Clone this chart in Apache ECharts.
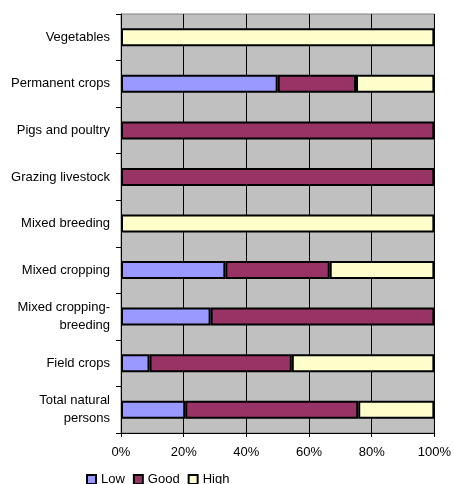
<!DOCTYPE html>
<html>
<head>
<meta charset="utf-8">
<script src="https://cdn.jsdelivr.net/npm/echarts@6/dist/echarts.min.js"></script>
<style>
  html, body { margin: 0; padding: 0; background: #fff; }
  #chart { width: 454px; height: 484px; }
</style>
</head>
<body>
<div id="chart"></div>
<script>
// Farm types, listed top to bottom
const categories = [
  'Vegetables',
  'Permanent crops',
  'Pigs and poultry',
  'Grazing livestock',
  'Mixed breeding',
  'Mixed cropping',
  'Mixed cropping-\nbreeding',
  'Field crops',
  'Total natural\npersons'
];

// Share of each rating level (%)
const lowValues  = [0, 50, 0, 0, 0, 33.3, 28.6, 9.1, 20.5];
const goodValues = [0, 25, 100, 100, 0, 33.3, 71.4, 45.4, 55.2];
const highValues = [100, 25, 0, 0, 100, 33.4, 0, 45.5, 24.3];

const xTicks = { min: 0, max: 100, interval: 20 };

const seriesNames = ['Low', 'Good', 'High'];
const seriesColors = ['#9999FF', '#993366', '#FFFFCC'];
const seriesValues = [lowValues, goodValues, highValues];

const chart = echarts.init(document.getElementById('chart'), null, { renderer: 'canvas' });

const font = 'Liberation Sans, Arial, sans-serif';

chart.setOption({
  animation: false,
  textStyle: { fontFamily: font },
  grid: {
    left: 121, right: 17, top: 14, bottom: 51,
    show: true,
    backgroundColor: '#C0C0C0',
    borderColor: '#808080',
    borderWidth: 1
  },
  legend: {
    data: seriesNames,
    left: 86,
    top: 473,
    icon: 'rect',
    itemWidth: 9,
    itemHeight: 9,
    itemGap: 8,
    padding: 0,
    textStyle: { fontSize: 13, color: '#000', fontFamily: font }
  },
  xAxis: {
    type: 'value',
    min: xTicks.min,
    max: xTicks.max,
    interval: xTicks.interval,
    axisLine: { show: true, lineStyle: { color: '#000', width: 1 } },
    axisTick: { show: true, length: 4, lineStyle: { color: '#000' } },
    axisLabel: {
      formatter: '{value}%',
      fontSize: 13,
      color: '#000',
      margin: 13,
      fontFamily: font
    },
    splitLine: { show: true, lineStyle: { color: '#000', width: 1 } }
  },
  yAxis: {
    type: 'category',
    data: categories,
    inverse: true,
    axisLine: { show: true, lineStyle: { color: '#000', width: 1 } },
    axisTick: { show: true, length: 5, lineStyle: { color: '#000' } },
    axisLabel: {
      fontSize: 13,
      color: '#000',
      margin: 11,
      lineHeight: 18,
      align: 'right',
      fontFamily: font
    },
    splitLine: { show: false }
  },
  series: seriesNames.map((name, i) => ({
    name: name,
    type: 'bar',
    stack: 'share',
    barWidth: 18,
    // empty segments are skipped so no stray border is drawn
    data: seriesValues[i].map(v => (v === 0 ? '-' : v)),
    itemStyle: {
      color: seriesColors[i],
      borderColor: '#000',
      borderWidth: 2
    },
    emphasis: { disabled: true }
  }))
});
</script>
</body>
</html>
